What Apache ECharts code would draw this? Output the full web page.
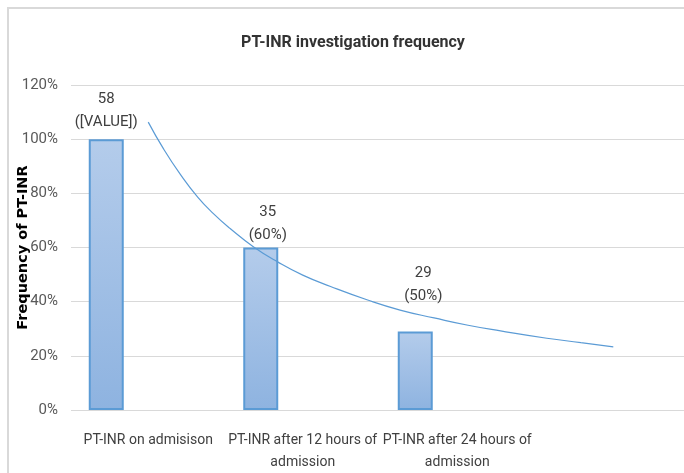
<!DOCTYPE html>
<html>
<head>
<meta charset="utf-8">
<script src="https://cdn.jsdelivr.net/npm/echarts@6/dist/echarts.min.js"></script>
<style>
  html, body { margin: 0; padding: 0; background: #fff; }
  #main { width: 684px; height: 473px; }
</style>
</head>
<body>
<div id="main"></div>
<script>
// data
var categories = ['PT-INR on admisison', 'PT-INR after 12 hours of\nadmission', 'PT-INR after 24 hours of\nadmission'];
var percentValues = [100, 60, 29];
var counts = [58, 35, 29];
var pctText = ['[VALUE]', '60%', '50%'];
var yTicks = [0, 20, 40, 60, 80, 100, 120];

// power trendline (one period forecast), read point by point
var trendX = [1.00, 1.10, 1.21, 1.32, 1.42, 1.53, 1.68, 1.84, 2.00, 2.18, 2.42, 2.63, 2.85, 3.07, 3.28, 3.58, 3.80, 4.01];
var trendY = [106.3, 96.3, 86.8, 78.6, 72.6, 67.0, 60.3, 54.6, 49.8, 45.6, 40.6, 36.9, 34.0, 31.3, 29.2, 26.5, 24.9, 23.3];

var font = 'Roboto, "Liberation Sans", sans-serif';
var labelOffsets = [[0, 0], [7, 4], [8, -19]];

var dom = document.getElementById('main');
var myChart = echarts.init(dom, null, { renderer: 'canvas' });

var barData = percentValues.map(function (v, i) {
  return {
    value: v,
    label: {
      formatter: counts[i] + '\n(' + pctText[i] + ')',
      offset: labelOffsets[i]
    }
  };
});

var option = {
  animation: false,
  backgroundColor: '#fff',
  graphic: [{
    type: 'rect',
    shape: { x: 8, y: 8, width: 720, height: 520 },
    style: { fill: 'none', stroke: '#d9d9d9', lineWidth: 2 },
    silent: true
  }],
  title: {
    text: 'PT-INR investigation frequency',
    left: 348,
    textAlign: 'center',
    top: 30,
    textStyle: { fontFamily: font, fontSize: 16, fontWeight: 'bold', color: '#333' }
  },
  grid: { left: 71, top: 85, width: 618, height: 325, outerBoundsMode: 'none' },
  xAxis: [
    {
      type: 'category',
      data: categories.concat(['']),
      axisLine: { show: false },
      axisTick: { show: false },
      axisLabel: {
        interval: 0,
        margin: 19,
        fontFamily: font,
        fontSize: 14,
        lineHeight: 22,
        color: '#404040'
      }
    },
    {
      type: 'value',
      min: 0.5,
      max: 4.5,
      show: false,
      splitLine: { show: false }
    }
  ],
  yAxis: {
    type: 'value',
    min: yTicks[0],
    max: yTicks[yTicks.length - 1],
    interval: 20,
    name: 'Frequency of PT-INR',
    nameLocation: 'middle',
    nameGap: 40,
    nameMoveOverlap: false,
    nameTextStyle: { fontFamily: '"DejaVu Sans", sans-serif', fontSize: 14.5, fontWeight: 'bold', color: '#000' },
    axisLine: { show: false },
    axisTick: { show: false },
    axisLabel: {
      formatter: '{value}%',
      margin: 13,
      fontFamily: font,
      fontSize: 15,
      color: '#595959'
    },
    splitLine: { lineStyle: { color: '#d9d9d9', width: 1 } }
  },
  series: [
    {
      name: 'Frequency',
      type: 'bar',
      xAxisIndex: 0,
      barWidth: 35,
      barGap: '140%',
      itemStyle: {
        color: {
          type: 'linear', x: 0, y: 0, x2: 0, y2: 1,
          colorStops: [
            { offset: 0, color: '#b4cceb' },
            { offset: 1, color: '#8eb3e0' }
          ]
        },
        borderColor: '#5b9bd5',
        borderWidth: 2
      },
      label: {
        show: true,
        position: 'top',
        distance: 5,
        fontFamily: font,
        fontSize: 15,
        lineHeight: 23,
        color: '#404040'
      },
      data: barData
    },
    {
      name: 'empty',
      type: 'bar',
      xAxisIndex: 0,
      barWidth: 35,
      barGap: '140%',
      data: [null, null, null, null]
    },
    {
      name: 'Trend',
      type: 'line',
      xAxisIndex: 1,
      smooth: true,
      symbol: 'none',
      lineStyle: { color: '#5b9bd5', width: 1.2 },
      data: trendX.map(function (x, i) { return [x, trendY[i]]; })
    }
  ]
};

myChart.setOption(option);
window.addEventListener('resize', myChart.resize);
</script>
</body>
</html>
